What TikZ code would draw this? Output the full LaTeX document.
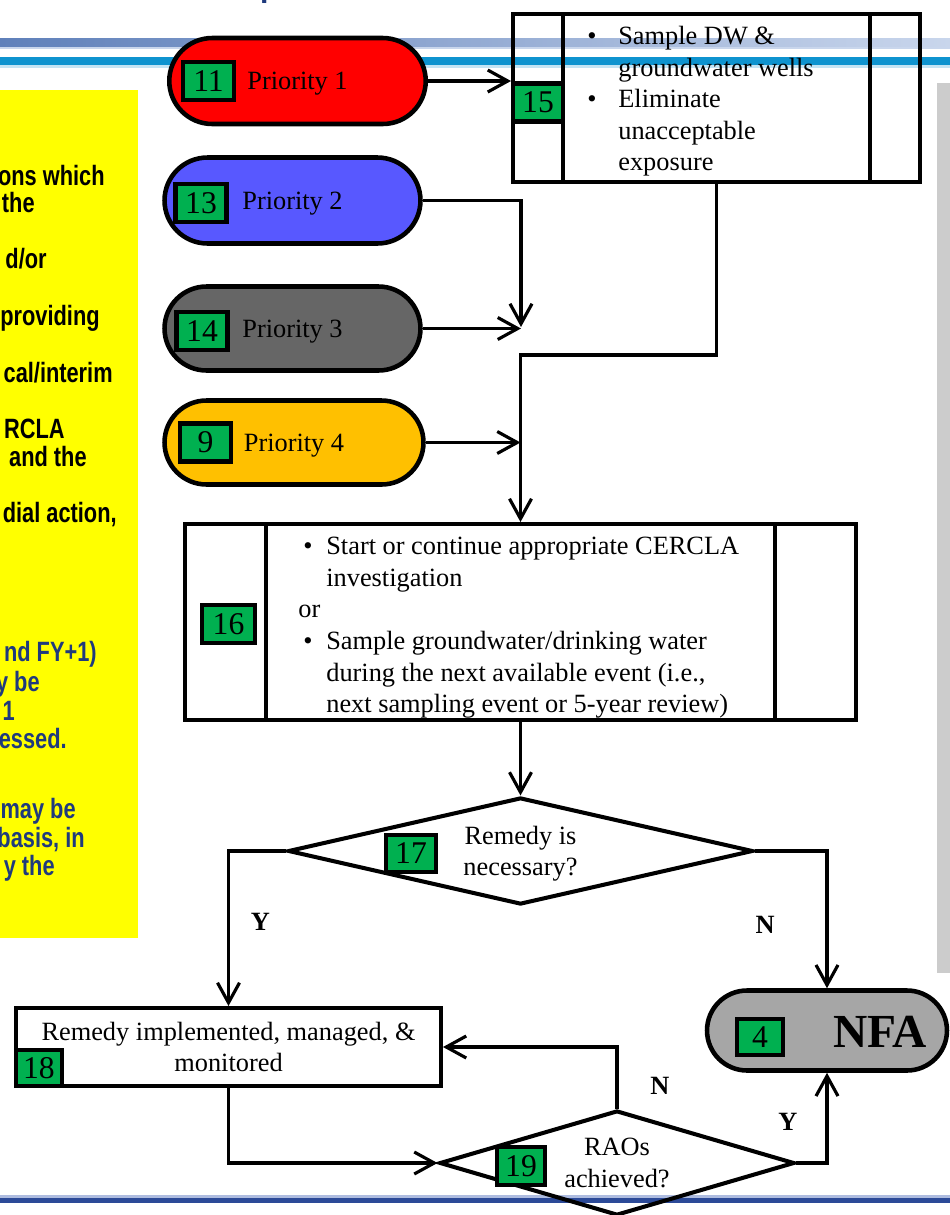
\documentclass[tikz,border=0pt]{standalone}
\usepackage{fontspec}
\setmainfont{Liberation Serif}
\newfontfamily\notefont[FakeStretch=0.78]{Liberation Sans}
\usetikzlibrary{shapes.misc,shapes.geometric,arrows.meta}
\definecolor{numgreen}{HTML}{00B050}
\definecolor{prioone}{HTML}{FF0000}
\definecolor{priotwo}{HTML}{5858FF}
\definecolor{priothree}{HTML}{666666}
\definecolor{priofour}{HTML}{FFC000}
\definecolor{nfagray}{HTML}{A6A6A6}
\definecolor{notebg}{HTML}{FFFF00}
\definecolor{notenavy}{HTML}{1F3A7D}
\definecolor{bandsteel}{HTML}{5F80BA}
\definecolor{bandsteellight}{HTML}{C9D6EC}
\definecolor{bandcyan}{HTML}{0E93CF}
\definecolor{bandpale}{HTML}{C4E4F4}
\definecolor{panelgray}{HTML}{CCCCCC}
\definecolor{footnavy}{HTML}{2C4A98}
\definecolor{footpale}{HTML}{AEBCE0}
\newcommand{\flowfont}{\fontsize{15}{18}\selectfont}
\newcommand{\numfont}{\fontsize{18}{20}\selectfont}
\newcommand{\notesize}{\notefont\bfseries\fontsize{15.9}{15.6}\selectfont}
\newcommand{\bulletmark}{\makebox[0.62cm][l]{\textbullet}}
\newcommand{\bulletmarkb}{\makebox[0.56cm][l]{\hspace{0.1cm}\textbullet}}
\begin{document}
\begin{tikzpicture}[x=0.02cm, y=-0.02cm,
	pill/.style={rounded rectangle, draw, line width=2.6pt, inner sep=0pt, text depth=0pt, font=\flowfont},
	flowbox/.style={rectangle, draw, line width=2.3pt, inner sep=0pt},
	decision/.style={diamond, draw, line width=2.3pt, inner sep=0pt, text depth=0pt, align=center, font=\flowfont},
	numbox/.style={rectangle, draw, line width=2.3pt, fill=numgreen, inner sep=0pt, font=\numfont},
	link/.style={line width=1.8pt, -{Straight Barb[length=4mm,width=4.4mm]}},
	yn/.style={inner sep=0pt, font=\flowfont\bfseries},
	note/.style={inner sep=0pt, anchor=base east, font=\notesize}]
	\useasboundingbox (0,0) rectangle (950,1215);
	\clip (0,0) rectangle (950,1215);
	
	% slide header, side panel and footer
	\node[anchor=base west, inner sep=0pt, text=notenavy, font=\notefont\bfseries\fontsize{22}{22}\selectfont] (title) at (260,-5) {p};
	\shade[left color=bandsteel, right color=bandsteellight] (0,38) rectangle (950,47);
	\fill[bandsteellight] (0,47) rectangle (950,49);
	\fill[bandcyan] (0,57) rectangle (950,65);
	\fill[bandpale] (0,65) rectangle (950,68);
	\fill[panelgray] (937,83) rectangle (950,973);
	\fill[footpale] (0,1195) rectangle (950,1198);
	\fill[footnavy] (0,1198) rectangle (950,1203);
	
	% yellow note, cut at the left edge
	\fill[notebg] (0,90) rectangle (138,938);
	\node[note] (n1) at (105,185) {ons which};
	\node[note] (n2) at (35,212) {the};
	\node[note] (n3) at (47,268) {d/or};
	\node[note] (n4) at (100,325) {providing};
	\node[note] (n5) at (113,382) {cal/interim};
	\node[note] (n6) at (65,438) {RCLA};
	\node[note] (n7) at (87,466) {and the};
	\node[note] (n8) at (117,522) {dial action,};
	\node[note, text=notenavy] (n9) at (97,661) {nd FY+1)};
	\node[note, text=notenavy] (n10) at (40,691) {y be};
	\node[note, text=notenavy] (n11) at (15,720) {1};
	\node[note, text=notenavy] (n12) at (67,748) {essed.};
	\node[note, text=notenavy] (n13) at (76,818) {may be};
	\node[note, text=notenavy] (n14) at (85,847) {basis, in};
	\node[note, text=notenavy] (n15) at (55,875) {y the};
	
	% priorities
	\node[pill, fill=prioone, minimum width=5.13cm, minimum height=1.72cm] (p1) at (297.5,81) {Priority 1};
	\node[pill, fill=priotwo, minimum width=5.12cm, minimum height=1.72cm] (p2) at (292.5,200.5) {Priority 2};
	\node[pill, fill=priothree, minimum width=5.12cm, minimum height=1.68cm] (p3) at (292.5,328.5) {Priority 3};
	\node[pill, fill=priofour, minimum width=5.18cm, minimum height=1.68cm] (p4) at (294,442.5) {Priority 4};
	
	% process boxes
	\node[flowbox, minimum width=8.14cm, minimum height=3.36cm] (b15) at (716.5,98) {};
	\draw[line width=2.3pt] (b15.north west) ++(52,0) coordinate (b15l) -- (b15l |- b15.south);
	\draw[line width=2.3pt] (b15.north east) ++(-52,0) coordinate (b15r) -- (b15r |- b15.south);
	\node[anchor=north west, inner sep=0pt, align=left, font=\flowfont] (t15) at (587,22)
		{\strut\bulletmark Sample DW \&\\ \hspace*{0.62cm}groundwater wells\\ \bulletmark Eliminate\\ \hspace*{0.62cm}unacceptable\\ \hspace*{0.62cm}exposure};
	
	\node[flowbox, fill=white, minimum width=13.42cm, minimum height=3.92cm] (b16) at (520.5,622) {};
	\draw[line width=2.3pt] (b16.north west) ++(83,0) coordinate (b16l) -- (b16l |- b16.south);
	\draw[line width=2.3pt] (b16.north east) ++(-83,0) coordinate (b16r) -- (b16r |- b16.south);
	\node[anchor=north west, inner sep=0pt, align=left, font=\flowfont] (t16) at (298,532)
		{\strut\bulletmarkb Start or continue appropriate CERCLA\\ \hspace*{0.56cm}investigation\\ or\\ \bulletmarkb Sample groundwater/drinking water\\ \hspace*{0.56cm}during the next available event (i.e.,\\ \hspace*{0.56cm}next sampling event or 5-year review)};
	
	\node[decision, shape aspect=4.2, minimum width=9.3cm, minimum height=2.14cm] (d17) at (520.5,851) {Remedy is\\ necessary?};
	\node[flowbox, fill=white, align=center, font=\flowfont, minimum width=8.5cm, minimum height=1.56cm] (b18) at (228.5,1047) {Remedy implemented, managed, \&\\ monitored};
	\node[decision, shape aspect=3.3, minimum width=7.1cm, minimum height=2.1cm] (d19) at (617,1163) {RAOs\\ achieved?};
	\node[pill, fill=nfagray, minimum width=4.8cm, minimum height=1.6cm] (nfa) at (827,1030.5) {};
	\node[inner sep=0pt, font=\bfseries\fontsize{27}{30}\selectfont] (nfalab) at (880,1032) {NFA};
	
	% step numbers
	\node[numbox, minimum width=1.02cm, minimum height=0.76cm] (g11) at (208.5,81) {11};
	\node[numbox, minimum width=1.02cm, minimum height=0.76cm] (g13) at (201,203) {13};
	\node[numbox, minimum width=1.02cm, minimum height=0.76cm] (g14) at (202,331) {14};
	\node[numbox, minimum width=1.02cm, minimum height=0.76cm] (g9) at (205.5,442.5) {9};
	\node[numbox, minimum width=1.0cm, minimum height=0.76cm] (g15) at (538,102.5) {15};
	\node[numbox, minimum width=1.06cm, minimum height=0.76cm] (g16) at (228.5,624) {16};
	\node[numbox, minimum width=1.0cm, minimum height=0.74cm] (g17) at (411,853.5) {17};
	\node[numbox, minimum width=0.92cm, minimum height=0.72cm] (g18) at (39,1068) {18};
	\node[numbox, minimum width=0.92cm, minimum height=0.72cm] (g4) at (760,1037) {4};
	\node[numbox, minimum width=0.96cm, minimum height=0.76cm] (g19) at (521,1166) {19};
	
	% connectors
	\coordinate (merge) at (521,327);
	\coordinate (elbow) at (520.5,355);
	\draw[link] (p1.east) -- (p1.east -| b15.west);
	\draw[link] (p2.east) -| (merge);
	\draw[link] (p3.east) -- (p3.east -| merge);
	\draw[link] (b15.south) |- (elbow) -- (b16.north);
	\draw[link] (p4.east) -- (p4.east -| elbow);
	\draw[link] (b16.south) -- (d17.north);
	\draw[link] (d17.west) -| (b18.north) node[yn, pos=0.73, xshift=0.64cm] (yes1) {Y};
	\draw[link] (d17.east) -| (nfa.north) node[yn, pos=0.77, xshift=-1.24cm] (no1) {N};
	\draw[link] (b18.south) |- (d19.west);
	\draw[link] (d19.north) |- (b18.east) node[yn, pos=0.18, xshift=0.86cm] (no2) {N};
	\draw[link] (d19.east) -| (nfa.south) node[yn, pos=0.73, xshift=-0.78cm] (yes2) {Y};
\end{tikzpicture}
\end{document}
